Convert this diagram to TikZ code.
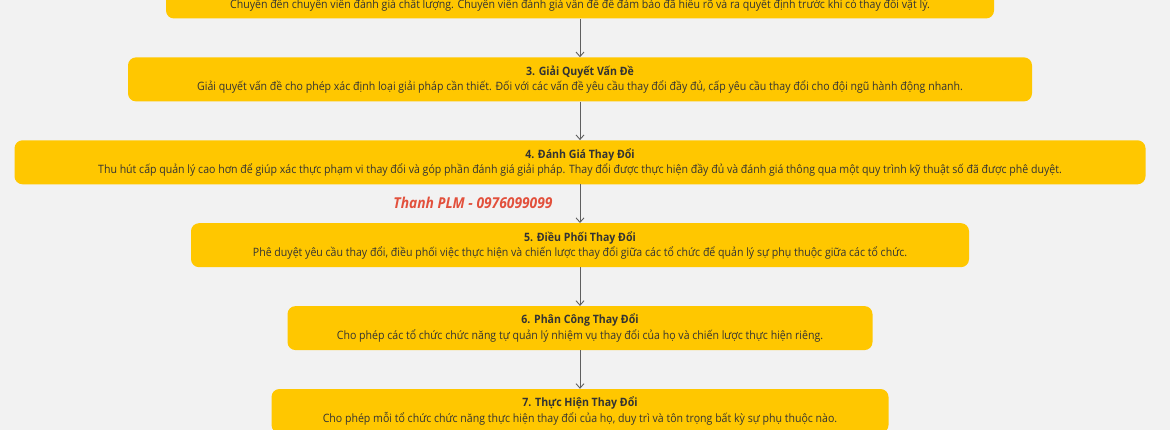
\documentclass[tikz,border=0pt]{standalone}
\usepackage{fontspec}
\usepackage{xcolor}
\usetikzlibrary{arrows.meta,positioning}
\newfontfamily\boxfont{Open Sans}[FakeStretch=0.92]
\definecolor{stepyellow}{HTML}{FFC700}
\definecolor{paper}{HTML}{F2F2F2}
\definecolor{inktext}{HTML}{333333}
\definecolor{linkgray}{HTML}{5F5F5F}
\definecolor{markred}{HTML}{E2503C}

\begin{document}
\begin{tikzpicture}[x=1pt,y=-1pt,->,>={Straight Barb[length=4.5pt,width=8pt]},shorten >=0pt,node distance=38.5pt,
  stage/.style={rectangle,rounded corners=8pt,fill=stepyellow,draw=none,minimum height=44pt,inner sep=0pt,
    align=center,font=\boxfont\fontsize{11.5}{15.5}\selectfont,text=inktext}]
  \fill[paper] (0,0) rectangle (1170,430);
  \useasboundingbox (0,0) rectangle (1170,430);

  \node[stage,minimum width=828pt] (s2) at (580,-3.5) {\strut\\Chuyển đến chuyên viên đánh giá chất lượng. Chuyên viên đánh giá vấn đề để đảm bảo đã hiểu rõ và ra quyết định trước khi có thay đổi vật lý.};
  \node[stage,minimum width=904pt] (s3) [below=of s2] {\textbf{3. Giải Quyết Vấn Đề}\\Giải quyết vấn đề cho phép xác định loại giải pháp cần thiết. Đối với các vấn đề yêu cầu thay đổi đầy đủ, cấp yêu cầu thay đổi cho đội ngũ hành động nhanh.};
  \node[stage,minimum width=1131pt] (s4) [below=of s3] {\textbf{4. Đánh Giá Thay Đổi}\\Thu hút cấp quản lý cao hơn để giúp xác thực phạm vi thay đổi và góp phần đánh giá giải pháp. Thay đổi được thực hiện đầy đủ và đánh giá thông qua một quy trình kỹ thuật số đã được phê duyệt.};
  \node[stage,minimum width=778pt] (s5) [below=of s4] {\textbf{5. Điều Phối Thay Đổi}\\Phê duyệt yêu cầu thay đổi, điều phối việc thực hiện và chiến lược thay đổi giữa các tổ chức để quản lý sự phụ thuộc giữa các tổ chức.};
  \node[stage,minimum width=585pt] (s6) [below=of s5] {\textbf{6. Phân Công Thay Đổi}\\Cho phép các tổ chức chức năng tự quản lý nhiệm vụ thay đổi của họ và chiến lược thực hiện riêng.};
  \node[stage,minimum width=617pt] (s7) [below=of s6] {\textbf{7. Thực Hiện Thay Đổi}\\Cho phép mỗi tổ chức chức năng thực hiện thay đổi của họ, duy trì và tôn trọng bất kỳ sự phụ thuộc nào.};

  \node[font=\boxfont\bfseries\itshape\fontsize{15}{17}\selectfont,text=markred] (mark) at (473,203) {Thanh PLM - 0976099099};

  \path[draw=linkgray,line width=0.9pt]
  (s2) edge (s3)
  (s3) edge (s4)
  (s4) edge (s5)
  (s5) edge (s6)
  (s6) edge (s7);
\end{tikzpicture}
\end{document}
